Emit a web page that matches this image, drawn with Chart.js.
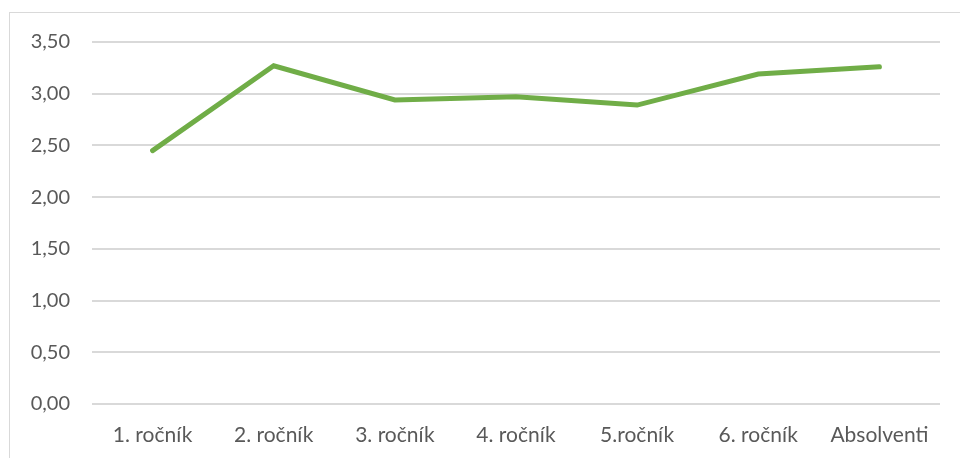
<!DOCTYPE html>
<html>
<head>
<meta charset="utf-8">
<script src="https://cdn.jsdelivr.net/npm/chart.js@4"></script>
<style>
  html, body { margin: 0; padding: 0; background: #fff; }
  #wrap { position: relative; width: 960px; height: 458px; overflow: hidden; }
  #frame { position: absolute; left: 9px; top: 12px; width: 960px; height: 460px; border: 1px solid #d9d9d9; box-sizing: border-box; }
  canvas { position: absolute; left: 0; top: 0; }
</style>
</head>
<body>
<div id="wrap">
  <div id="frame"></div>
  <canvas id="chart" width="960" height="458"></canvas>
</div>
<script>
// categories and values
const categories = ["1. ročník", "2. ročník", "3. ročník", "4. ročník", "5.ročník", "6. ročník", "Absolventi"];
const scores = [2.45, 3.27, 2.94, 2.97, 2.89, 3.19, 3.26];
const y_min = 0;
const y_max = 3.5;
const y_step = 0.5;

const text_color = "#595959";
const grid_color = "#d9d9d9";
const font_family = "Lato, 'Open Sans', sans-serif";

const ctx = document.getElementById("chart");
new Chart(ctx, {
    type: "line",
    data: {
        labels: categories,
        datasets: [{
            data: scores,
            borderColor: "#70ad47",
            borderWidth: 5,
            pointRadius: 0,
            tension: 0,
            borderCapStyle: "round",
            borderJoinStyle: "miter"
        }]
    },
    options: {
        responsive: false,
        animation: false,
        layout: {
            padding: { left: 30, right: 20, top: 42, bottom: 11 }
        },
        plugins: {
            legend: { display: false },
            tooltip: { enabled: false }
        },
        scales: {
            x: {
                offset: true,
                grid: { display: false, drawTicks: false },
                border: { display: false },
                afterFit: (axis) => { axis.height = 43; },
                ticks: {
                    color: text_color,
                    padding: 19,
                    maxRotation: 0,
                    autoSkip: false,
                    font: { family: font_family, size: 21 }
                }
            },
            y: {
                min: y_min,
                max: y_max,
                grid: { color: grid_color, lineWidth: 2, drawTicks: false },
                border: { display: false },
                afterFit: (axis) => { axis.width = 62; },
                ticks: {
                    stepSize: y_step,
                    color: text_color,
                    padding: 22,
                    font: { family: font_family, size: 20 },
                    callback: (v) => Number(v).toFixed(2).replace(".", ",")
                }
            }
        }
    }
});
</script>
</body>
</html>
